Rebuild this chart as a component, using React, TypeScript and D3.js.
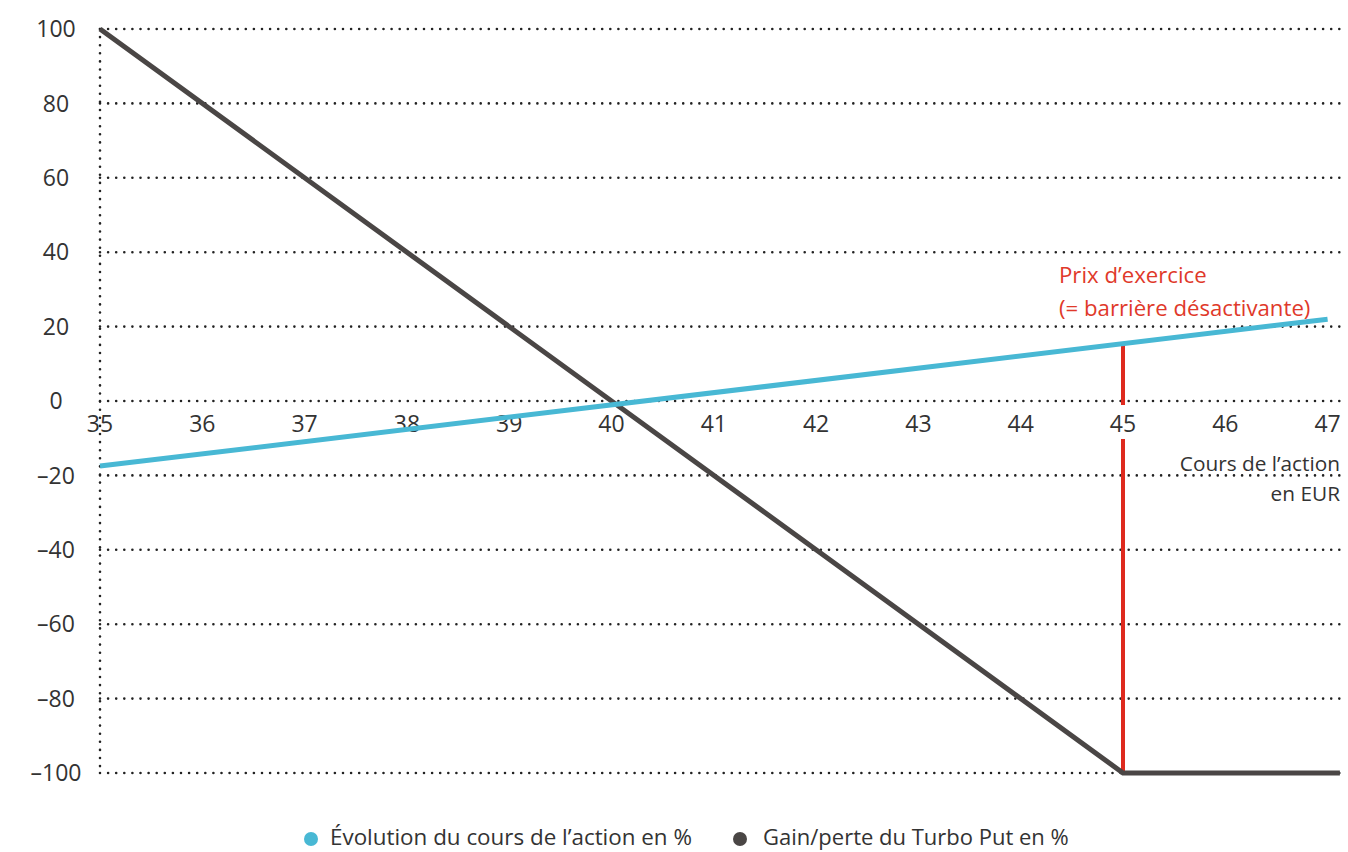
import React from "react";
import * as d3 from "d3";

const xTicks = [35, 36, 37, 38, 39, 40, 41, 42, 43, 44, 45, 46, 47];
const yTicks = [100, 80, 60, 40, 20, 0, -20, -40, -60, -80, -100];
const stockPrices = [35, 47];
const stockChange = [-17.5, 22];
const turboPrices = [35, 45, 47.12];
const turboPnL = [100, -100, -100];
const strikePrice = 45;
const strikeTop = 15.8;
const seriesNames = ["Évolution du cours de l’action en %", "Gain/perte du Turbo Put en %"];
const seriesColors = ["#48B8D4", "#4A4645"];
const strikeLabel = ["Prix d’exercice", "(= barrière désactivante)"];
const xAxisTitle = ["Cours de l’action", "en EUR"];

const W = 1348;
const H = 852;
const FONT = "'Open Sans', 'Noto Sans', sans-serif";

export default function App() {
  const x = d3.scaleLinear().domain([35, 45]).range([100, 1123]);
  const y = d3.scaleLinear().domain([-100, 100]).range([773, 29]);
  const gridEnd = 1341;
  const line = d3
    .line<[number, number]>()
    .x((d) => x(d[0]))
    .y((d) => y(d[1]));
  const stock: [number, number][] = stockPrices.map((p, i) => [p, stockChange[i]]);
  const turbo: [number, number][] = turboPrices.map((p, i) => [p, turboPnL[i]]);
  const dot = { stroke: "#222", strokeWidth: 2.6, strokeDasharray: "0 8.1", strokeLinecap: "round" as const };
  const legendY = 837;

  return (
    <svg width={W} height={H} style={{ position: "absolute", left: 0, top: 0, background: "#fff" }} fontFamily={FONT}>
      <rect width={W} height={H} fill="#fff" />
      {yTicks.map((t) => (
        <g key={t}>
          <line x1={x(35)} x2={gridEnd} y1={y(t)} y2={y(t)} {...dot} />
          <text x={56} y={y(t)} dy="0.36em" textAnchor="middle" fontSize={23} fill="#333">
            {t < 0 ? "\u2013" + Math.abs(t) : t}
          </text>
        </g>
      ))}
      <line x1={x(35)} x2={x(35)} y1={y(100)} y2={y(-100)} {...dot} />
      {xTicks.map((t) => (
        <text key={t} x={x(t)} y={y(0) + 31} textAnchor="middle" fontSize={23} fill="#333">
          {t}
        </text>
      ))}
      <text x={1340} y={471} textAnchor="end" fontSize={20.8} fill="#333">
        {xAxisTitle[0]}
      </text>
      <text x={1340} y={501} textAnchor="end" fontSize={20.8} fill="#333">
        {xAxisTitle[1]}
      </text>
      {/* strike line */}
      <line x1={x(strikePrice)} x2={x(strikePrice)} y1={y(strikeTop)} y2={y(0) + 4} stroke="#DE2A1E" strokeWidth={4} />
      <line x1={x(strikePrice)} x2={x(strikePrice)} y1={y(0) + 38} y2={y(-100)} stroke="#DE2A1E" strokeWidth={4} />
      <path d={line(turbo) || ""} fill="none" stroke={seriesColors[1]} strokeWidth={5} strokeLinejoin="miter" />
      <path d={line(stock) || ""} fill="none" stroke={seriesColors[0]} strokeWidth={5} />
      <text x={1059} y={283} fontSize={22.2} fill="#E0392A">
        {strikeLabel[0]}
      </text>
      <text x={1059} y={316} fontSize={22.2} fill="#E0392A">
        {strikeLabel[1]}
      </text>
      {/* legend */}
      <circle cx={311} cy={legendY + 2} r={7} fill={seriesColors[0]} />
      <text x={330} y={legendY} dy="0.36em" fontSize={22.4} fill="#333">
        {seriesNames[0]}
      </text>
      <circle cx={740} cy={legendY + 2} r={7} fill={seriesColors[1]} />
      <text x={763} y={legendY} dy="0.36em" fontSize={22} fill="#333">
        {seriesNames[1]}
      </text>
    </svg>
  );
}
